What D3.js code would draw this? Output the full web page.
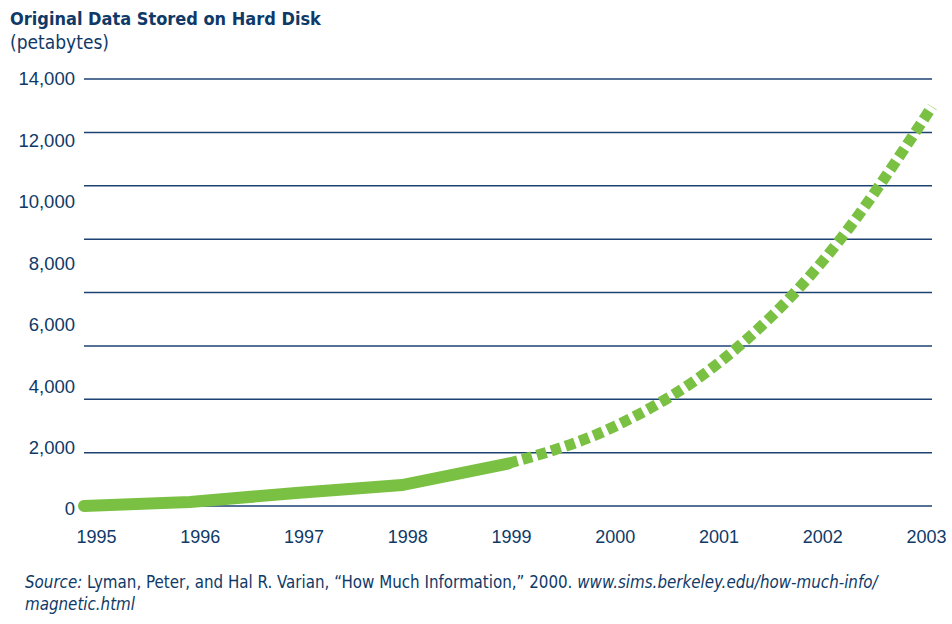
<!DOCTYPE html>
<html>
<head>
<meta charset="utf-8">
<script src="https://cdn.jsdelivr.net/npm/d3@7"></script>
<style>
  body { margin: 0; background: #fff; }
  svg { display: block; font-family: "DejaVu Sans Condensed", "Liberation Sans Narrow", sans-serif; }
  .lbl { fill: #0f3a68; }
</style>
</head>
<body>
<div id="chart"></div>
<script>
// data (petabytes)
const years = [1995, 1996, 1997, 1998, 1999, 2000, 2001, 2002, 2003];
const storedPB = [100, 230, 520, 780, 1480, 2680, 4790, 8200, 13100];
const actualUntil = 1999; // solid line up to here, projection dotted after
const yTicks = [0, 2000, 4000, 6000, 8000, 10000, 12000, 14000];
const gridLines = [0, 1, 2, 3, 4, 5, 6, 7, 8];

const width = 952, height = 624;
const navy = "#0f3a68", green = "#7ac143";

const svg = d3.select("#chart").append("svg")
    .attr("width", width)
    .attr("height", height);

// scales
const x = d3.scaleLinear().domain([1995, 2003]).range([84, 932]);
const xLabel = d3.scaleLinear().domain([1995, 2003]).range([96, 926]);
const y = d3.scaleLinear().domain([0, 14000]).range([509, 79]);
const yGrid = d3.scaleLinear().domain([0, 8]).range([506, 79]);

// title
svg.append("text").attr("class", "lbl")
    .attr("x", 10).attr("y", 25)
    .style("font-size", "18px").style("font-weight", "bold")
    .text("Original Data Stored on Hard Disk");
svg.append("text").attr("class", "lbl")
    .attr("x", 10).attr("y", 49)
    .style("font-size", "19px")
    .text("(petabytes)");

// gridlines
svg.append("g").selectAll("line")
    .data(gridLines)
    .enter().append("line")
    .attr("x1", 84).attr("x2", 932)
    .attr("y1", d => yGrid(d)).attr("y2", d => yGrid(d))
    .attr("stroke", "#1c4272")
    .attr("stroke-width", 1.5);

// y labels
const yAxis = svg.append("g")
    .attr("transform", "translate(75,0)")
    .call(d3.axisLeft(y).tickValues(yTicks).tickFormat(d3.format(",")).tickSize(0).tickPadding(0));
yAxis.select(".domain").remove();
yAxis.selectAll("text").attr("class", "lbl").style("font-size", "18.5px").attr("font-family", null);

// x labels
const xAxis = svg.append("g")
    .attr("transform", "translate(0,530)")
    .call(d3.axisBottom(xLabel).tickValues(years).tickFormat(d => d).tickSize(0).tickPadding(0));
xAxis.select(".domain").remove();
xAxis.selectAll("text").attr("class", "lbl").style("font-size", "18px").attr("font-family", null);

// line
const pts = years.map((yr, i) => ({ year: yr, value: storedPB[i] }));
const actual = pts.filter(d => d.year <= actualUntil);
const projected = pts.filter(d => d.year >= actualUntil);

svg.append("path")
    .datum(actual)
    .attr("fill", "none")
    .attr("stroke", green)
    .attr("stroke-width", 12)
    .attr("stroke-linecap", "round")
    .attr("d", d3.line().x(d => x(d.year)).y(d => y(d.value)));

svg.append("path")
    .datum(projected)
    .attr("fill", "none")
    .attr("stroke", green)
    .attr("stroke-width", 11)
    .attr("stroke-dasharray", "10,5")
    .attr("d", d3.line().curve(d3.curveMonotoneX).x(d => x(d.year)).y(d => y(d.value)));

// source note
const src = svg.append("text").attr("class", "lbl")
    .attr("x", 25).attr("y", 588)
    .style("font-size", "16.8px");
src.append("tspan").style("font-style", "italic").text("Source:");
src.append("tspan").text(" Lyman, Peter, and Hal R. Varian, \u201cHow Much Information,\u201d 2000. ");
src.append("tspan").style("font-style", "italic").text("www.sims.berkeley.edu/how-much-info/");
svg.append("text").attr("class", "lbl")
    .attr("x", 25).attr("y", 610)
    .style("font-size", "16.8px").style("font-style", "italic")
    .text("magnetic.html");
</script>
</body>
</html>
